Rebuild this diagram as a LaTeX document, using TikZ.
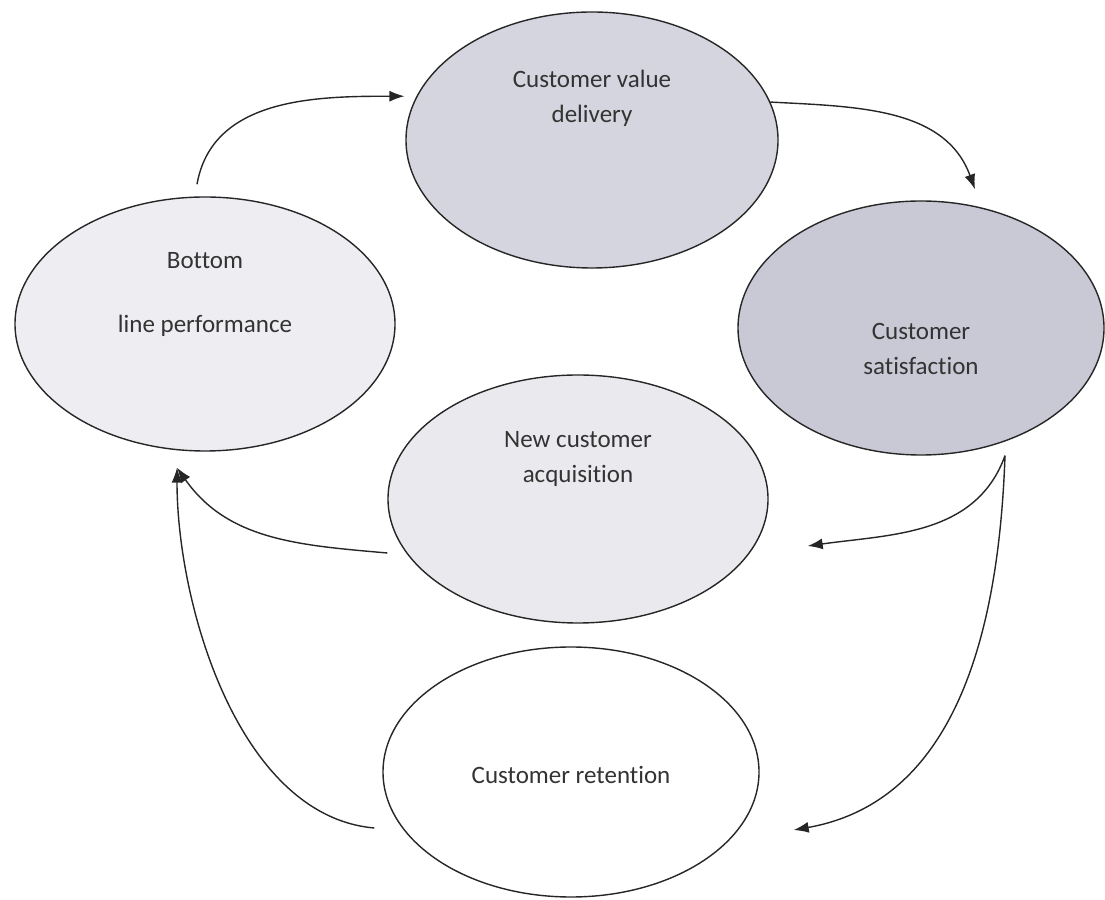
\documentclass[tikz,border=0pt]{standalone}
\usepackage{fontspec}
\setmainfont{Carlito}[Ligatures=NoCommon]
\usetikzlibrary{arrows.meta, shapes.geometric}

\definecolor{valuefill}{RGB}{212,213,222}
\definecolor{satisfill}{RGB}{200,201,213}
\definecolor{perffill}{RGB}{238,238,242}
\definecolor{acqfill}{RGB}{234,234,238}

\begin{document}
\begin{tikzpicture}[
    x=1pt, y=1pt,
    stage/.style={ellipse, draw=black!85, line width=1.4pt, inner sep=0pt},
    txt/.style={font=\fontsize{25}{35}\selectfont, text=black!80, align=center},
    arrow/.style={-{Latex[length=15pt, width=11pt]}, line width=1.4pt, black!85}
]
    \useasboundingbox (0,0) rectangle (1105,899);

    \node[stage, fill=valuefill, minimum width=372pt, minimum height=256pt] (value) at (592,759) {};
    \node[stage, fill=perffill, minimum width=380pt, minimum height=254pt] (perf) at (205,575) {};
    \node[stage, fill=satisfill, minimum width=366pt, minimum height=254pt] (satis) at (921,571) {};
    \node[stage, fill=acqfill, minimum width=380pt, minimum height=248pt] (acq) at (578,400) {};
    \node[stage, fill=white, minimum width=376pt, minimum height=250pt] (ret) at (571,127) {};

    \node[txt, yshift=42pt] (valuetxt) at (value) {Customer value\\delivery};
    \node[txt, yshift=29pt] (perftxt) at (perf) {Bottom\\[29pt]line performance};
    \node[txt, yshift=-21pt] (satistxt) at (satis) {Customer\\satisfaction};
    \node[txt, yshift=40pt] (acqtxt) at (acq) {New customer\\acquisition};
    \node[txt, yshift=-3pt] (rettxt) at (ret) {Customer retention};

    \draw[arrow] ([shift={(-8,12)}]perf.north) to[out=80, in=180] ([xshift=-12]value.166);
    \draw[arrow] (value.12) to[out=-3, in=110] ([shift={(54,11)}]satis.north);
    \draw[arrow] ([xshift=84]satis.south) to[out=-110, in=8] ([shift={(39,-47)}]acq.east);
    \draw[arrow] ([xshift=84]satis.south) to[out=-92, in=10] ([shift={(34,-58)}]ret.east);
    \draw[arrow] ([yshift=-54]acq.west) to[out=175, in=-55] ([shift={(-28,-16)}]perf.south);
    \draw[arrow] ([shift={(-8,-56)}]ret.west) to[out=175, in=-90, looseness=0.85] ([shift={(-28,-16)}]perf.south);
\end{tikzpicture}
\end{document}
